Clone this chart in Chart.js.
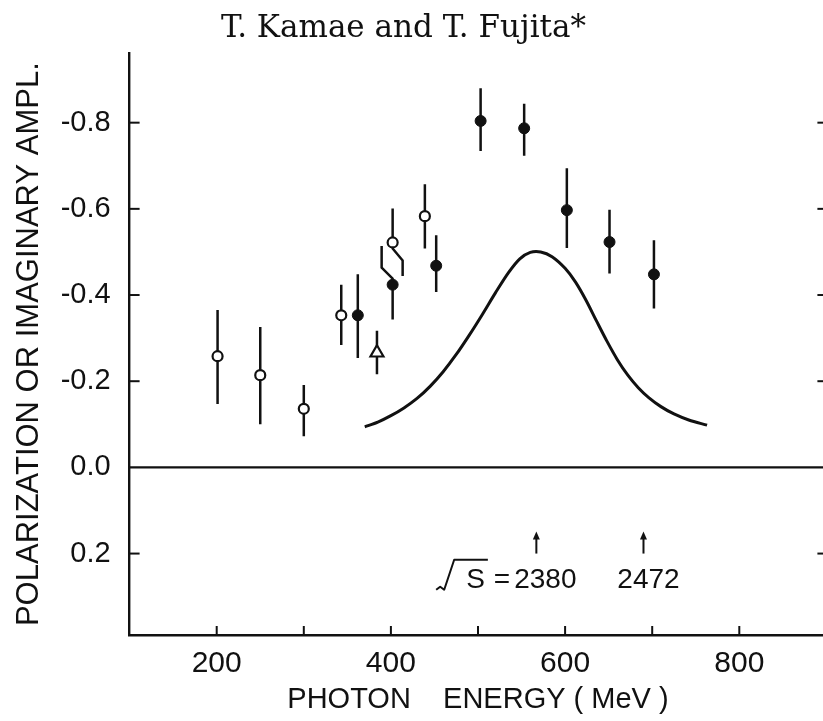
<!DOCTYPE html>
<html><head><meta charset="utf-8">
<script src="https://cdn.jsdelivr.net/npm/chart.js@4/dist/chart.umd.min.js"></script>
<style>
html,body{margin:0;padding:0;background:#fff;overflow:hidden;width:823px;height:721px}
#wrap{position:absolute;left:0;top:0;width:840px;height:721px}
</style>
</head><body><div id="wrap"><canvas id="c" width="840" height="721"></canvas></div>
<script>
// ---- text ----
const titleText = 'T. Kamae and T. Fujita*';
const xTitle = 'PHOTON    ENERGY ( MeV )';
const yTitle = 'POLARIZATION OR IMAGINARY AMPL.';

// ---- ticks ----
const xLabelTicks = [200, 400, 600, 800];
const xMarkTicks = [200, 300, 400, 500, 600, 700, 800];
const yLabelTicks = [-0.8, -0.6, -0.4, -0.2, 0.0, 0.2];
const yMarkTicks = [-0.8, -0.6, -0.4, -0.2, 0.2];

// ---- open circles ----
const openX   = [201, 250, 300, 343, 402, 439];
const openY   = [-0.258, -0.214, -0.136, -0.353, -0.522, -0.583];
const openTop = [-0.365, -0.326, -0.191, -0.424, -0.601, -0.657];
const openBot = [-0.147, -0.100, -0.072, -0.284, -0.444, -0.508];

// ---- filled circles ----
const fillX   = [362, 402, 452, 503, 553, 602, 651, 702];
const fillY   = [-0.353, -0.424, -0.468, -0.804, -0.787, -0.597, -0.523, -0.448];
const fillTop = [-0.448, -0.514, -0.539, -0.880, -0.844, -0.694, -0.598, -0.527];
const fillBot = [-0.254, -0.343, -0.407, -0.734, -0.723, -0.509, -0.450, -0.369];

// ---- open triangle ----
const triX   = [384];
const triY   = [-0.266];
const triTop = [-0.317];
const triBot = [-0.216];

// ---- theory curve ----
const curveX = [370, 385, 400, 415, 430, 445, 460, 475, 490, 505, 520, 535, 548, 560, 572, 585, 600, 612, 624, 636, 648, 660, 672, 684, 696, 710, 725, 742, 763];
const curveY = [-0.094, -0.105, -0.120, -0.138, -0.160, -0.188, -0.222, -0.262, -0.307, -0.355, -0.405, -0.452, -0.484, -0.499, -0.500, -0.489, -0.462, -0.430, -0.388, -0.340, -0.293, -0.250, -0.214, -0.185, -0.162, -0.141, -0.124, -0.110, -0.098];

// ---- sqrt(s) markers ----
const sqrtSLabels = ['2380', '2472'];
const sqrtSEnergy = [567, 690];

const ink = '#111';
const sans = "'Liberation Sans', Arial, sans-serif";

const pts = (xs, ys) => xs.map((v, i) => ({x: v, y: ys[i]}));

const errPlugin = {
  id: 'errbars',
  beforeDatasetsDraw(chart) {
    const {ctx, scales: {x, y}} = chart;
    ctx.save();
    ctx.strokeStyle = ink; ctx.lineWidth = 2.5; ctx.lineCap = 'butt'; ctx.lineJoin = 'round';
    chart.data.datasets.forEach(ds => {
      if (!ds.errTop) return;
      ds.data.forEach((p, i) => {
        const px = x.getPixelForValue(p.x), py = y.getPixelForValue(p.y);
        const top = y.getPixelForValue(ds.errTop[i]), bot = y.getPixelForValue(ds.errBot[i]);
        const k = (ds.kink && ds.kink.index === i) ? ds.kink : null;
        ctx.beginPath();
        if (k && k.side === 'upper') {
          ctx.moveTo(px, py); ctx.lineTo(px, py - 6);
          ctx.lineTo(px + k.dx, py - 6 - k.rise); ctx.lineTo(px + k.dx, top);
        } else { ctx.moveTo(px, py); ctx.lineTo(px, top); }
        if (k && k.side === 'lower') {
          ctx.moveTo(px, py); ctx.lineTo(px, py + 6);
          ctx.lineTo(px + k.dx, py + 6 + k.rise); ctx.lineTo(px + k.dx, bot);
        } else { ctx.moveTo(px, py); ctx.lineTo(px, bot); }
        ctx.stroke();
      });
    });
    ctx.restore();
  }
};

const framePlugin = {
  id: 'frame',
  beforeDatasetsDraw(chart) {
    const {ctx, chartArea: a, scales: {x, y}} = chart;
    ctx.save();
    ctx.strokeStyle = ink; ctx.lineWidth = 2.2;
    const y0 = y.getPixelForValue(0);
    ctx.beginPath(); ctx.moveTo(a.left, y0); ctx.lineTo(a.right, y0); ctx.stroke();
    ctx.lineWidth = 2;
    xMarkTicks.forEach(v => {
      const px = x.getPixelForValue(v);
      ctx.beginPath(); ctx.moveTo(px, a.bottom); ctx.lineTo(px, a.bottom - 9); ctx.stroke();
    });
    yMarkTicks.forEach(v => {
      const py = y.getPixelForValue(v);
      ctx.beginPath(); ctx.moveTo(a.left, py); ctx.lineTo(a.left + 10, py); ctx.stroke();
      ctx.beginPath(); ctx.moveTo(a.right, py); ctx.lineTo(a.right - 9, py); ctx.stroke();
    });
    ctx.restore();
  },
  afterDatasetsDraw(chart) {
    const {ctx, scales: {x, y}} = chart;
    ctx.save();
    ctx.strokeStyle = ink; ctx.fillStyle = ink; ctx.lineWidth = 2;
    const yb = y.getPixelForValue(0.2), yt = y.getPixelForValue(0.149);
    const ty = y.getPixelForValue(0.263);
    ctx.font = "28px " + sans;
    ctx.textBaseline = 'middle';
    sqrtSEnergy.forEach((e, i) => {
      const px = x.getPixelForValue(e);
      ctx.beginPath(); ctx.moveTo(px, yb); ctx.lineTo(px, yt + 5); ctx.stroke();
      ctx.beginPath(); ctx.moveTo(px, yt); ctx.lineTo(px - 3.5, yt + 8); ctx.lineTo(px + 3.5, yt + 8); ctx.closePath(); ctx.fill();
      ctx.textAlign = 'center';
      const cx = px + (i === 0 ? 9 : 5);
      ctx.fillText(sqrtSLabels[i], cx, ty);
      if (i === 0) {
        const numLeft = cx - ctx.measureText(sqrtSLabels[0]).width / 2;
        ctx.textAlign = 'left';
        const wEq = ctx.measureText('=').width;
        const wS = ctx.measureText('S').width;
        const eqX = numLeft - 4 - wEq;
        ctx.fillText('=', eqX, ty);
        const sX = eqX - 9 - wS;
        ctx.fillText('S', sX, ty);
        ctx.lineWidth = 2; ctx.lineJoin = 'round';
        ctx.beginPath();
        ctx.moveTo(sX - 30, ty + 9);
        ctx.lineTo(sX - 26, ty + 6);
        ctx.lineTo(sX - 22, ty + 9);
        ctx.lineTo(sX - 12, ty - 21);
        ctx.lineTo(sX + wS + 3, ty - 21);
        ctx.stroke();
      }
    });
    ctx.restore();
  }
};

const titleShift = {
  id: 'titleShift',
  afterLayout(chart) {
    if (chart.titleBlock) { chart.titleBlock.left = 0; chart.titleBlock.right = 807; }
  }
};

new Chart(document.getElementById('c'), {
  type: 'scatter',
  data: {
    datasets: [
      { type: 'line', label: 'theory', data: pts(curveX, curveY), borderColor: ink, borderWidth: 3,
        pointRadius: 0, fill: false, tension: 0.3, order: 3 },
      { label: 'open', data: pts(openX, openY), errTop: openTop, errBot: openBot,
        kink: {index: 4, side: 'lower', dx: 10, rise: 12},
        pointStyle: 'circle', pointRadius: 5, pointBorderWidth: 2.2,
        pointBackgroundColor: '#fff', pointBorderColor: ink, order: 1 },
      { label: 'filled', data: pts(fillX, fillY), errTop: fillTop, errBot: fillBot,
        kink: {index: 1, side: 'upper', dx: -11, rise: 11},
        pointStyle: 'circle', pointRadius: 5.5, pointBorderWidth: 1,
        pointBackgroundColor: ink, pointBorderColor: ink, order: 1 },
      { label: 'triangle', data: pts(triX, triY), errTop: triTop, errBot: triBot,
        pointStyle: 'triangle', pointRadius: 7.5, pointBorderWidth: 2.2,
        pointBackgroundColor: '#fff', pointBorderColor: ink, order: 1 }
    ]
  },
  options: {
    responsive: false, devicePixelRatio: 1, animation: false,
    layout: { padding: { left: 0, right: 13.6, top: 0, bottom: 0 } },
    plugins: {
      legend: { display: false }, tooltip: { enabled: false },
      title: { display: true, text: titleText, color: ink,
        font: { family: "'DejaVu Serif', serif", size: 31, weight: 'normal', lineHeight: 1.2 },
        padding: { top: 10, bottom: 6.1 } }
    },
    scales: {
      x: {
        type: 'linear', min: 100, max: 900, position: 'bottom',
        afterBuildTicks: s => { s.ticks = xLabelTicks.map(v => ({value: v})); },
        afterFit: s => { s.height = 86; },
        grid: { display: false, drawTicks: false },
        border: { display: true, color: ink, width: 2.4 },
        ticks: { color: ink, font: { family: sans, size: 30 }, padding: 11, maxRotation: 0, autoSkip: false },
        title: { display: true, text: xTitle, color: ink, font: { family: sans, size: 29, lineHeight: 1.2 },
          padding: { top: 0, bottom: 4 } }
      },
      y: {
        type: 'linear', min: -0.961, max: 0.389, reverse: true, position: 'left',
        afterBuildTicks: s => { s.ticks = yLabelTicks.map(v => ({value: v})); },
        afterFit: s => { s.width = 129.6; },
        grid: { display: false, drawTicks: false },
        border: { display: true, color: ink, width: 2.4 },
        ticks: { color: ink, font: { family: sans, size: 29 }, padding: 19,
          callback: v => (v === 0 ? '0.0' : v.toFixed(1)) },
        title: { display: true, text: yTitle, color: ink, font: { family: sans, size: 31, lineHeight: 1.2 },
          padding: { top: 11, bottom: 0 } }
      }
    }
  },
  plugins: [errPlugin, framePlugin, titleShift]
});
</script>
</body></html>
